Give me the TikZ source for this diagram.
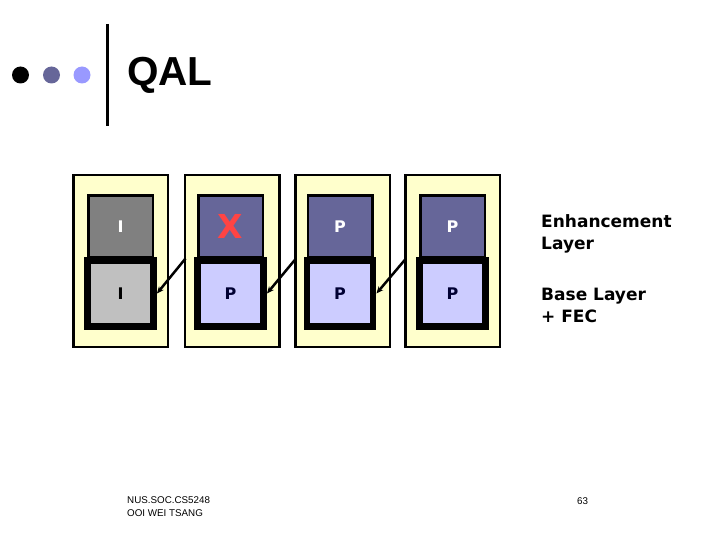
\documentclass[tikz,border=0pt]{standalone}
\usepackage{fontspec}
\setmainfont{DejaVu Sans}
\newfontfamily\arialfont{Liberation Sans}
\usepackage{tikz}
\usetikzlibrary{positioning, arrows.meta, calc}

\definecolor{padyellow}{HTML}{FFFFCC}
\definecolor{enhgray}{HTML}{808080}
\definecolor{enhblue}{HTML}{666699}
\definecolor{basegray}{HTML}{C0C0C0}
\definecolor{baseblue}{HTML}{CCCCFF}
\definecolor{lossred}{HTML}{FF4444}
\definecolor{dotlilac}{HTML}{9999FF}
\definecolor{labelnavy}{HTML}{000033}

\begin{document}
\begin{tikzpicture}[
        x=1pt, y=-1pt,
        padbox/.style={draw, line width=2.5pt, fill=padyellow, minimum width=94.5pt, minimum height=171.5pt},
        enhbox/.style={draw, line width=2.5pt, fill=#1, minimum width=64.5pt, minimum height=61.5pt, inner sep=0pt, text=white, font=\bfseries\fontsize{16}{16}\selectfont},
        enhbox/.default=enhblue,
        basebox/.style={draw, line width=6.5pt, fill=#1, minimum width=66.4pt, minimum height=66.4pt, inner sep=0pt, text=labelnavy, font=\bfseries\fontsize{16}{16}\selectfont},
        basebox/.default=baseblue,
        arr/.style={-{Stealth[length=7pt, width=6pt]}, line width=2.5pt},
        bullet/.style={circle, fill=#1, minimum size=17pt, inner sep=0pt},
        layerlabel/.style={align=left, anchor=west, inner sep=0pt, font=\bfseries\fontsize{17}{22}\selectfont},
    ]
    \useasboundingbox (0,0) rectangle (720,540);

    % Title bar
    \node[bullet=black] (b1) at (20.5,75) {};
    \node[bullet=enhblue] (b2) at (51.5,75) {};
    \node[bullet=dotlilac] (b3) at (82,75) {};
    \draw[line width=3.5pt] (107.5,24) -- (107.5,126);
    \node[anchor=base west, inner sep=0pt, font=\arialfont\bfseries\fontsize{40.5}{40}\selectfont] (title) at (127,86) {QAL};

    % Frames (one per picture)
    \node[padbox] (pad1) at (120.5,261) {};
    \node[padbox] (pad2) at (232,261) {};
    \node[padbox] (pad3) at (342.5,261) {};
    \node[padbox] (pad4) at (452.5,261) {};

    % Enhancement layer
    \node[enhbox=enhgray] (enh1) at (120.5,226.5) {I};
    \node[enhbox, text=lossred, font=\bfseries\fontsize{33}{33}\selectfont] (enh2) at (230.5,226.5) {X};
    \node[enhbox] (enh3) at (340,226.5) {P};
    \node[enhbox] (enh4) at (452.5,226.5) {P};

    % Base layer
    \node[basebox=basegray, text=black] (base1) at (120.5,293.5) {I};
    \node[basebox] (base2) at (230.5,293.5) {P};
    \node[basebox] (base3) at (340,293.5) {P};
    \node[basebox] (base4) at (452.5,293.5) {P};

    % Prediction arrows
    \draw[arr] ($(pad2.west |- enh2.south)+(2,0)$) -- (base1.east);
    \draw[arr] ($(pad3.west |- enh3.south)+(2,0)$) -- (base2.east);
    \draw[arr] ($(pad4.west |- enh4.south)+(2,0)$) -- (base3.east);

    % Layer labels
    \node[layerlabel] (enhlabel) at (541,234) {Enhancement\\Layer};
    \node[layerlabel] (baselabel) at (541,305) {Base Layer\\+ FEC};

    % Footer
    \node[align=left, anchor=west, inner sep=0pt, font=\arialfont\fontsize{9.8}{13}\selectfont] (course) at (127,507) {NUS.SOC.CS5248\\OOI WEI TSANG};
    \node[anchor=base west, inner sep=0pt, font=\arialfont\fontsize{9.8}{13}\selectfont] (page) at (577,504) {63};
\end{tikzpicture}
\end{document}
